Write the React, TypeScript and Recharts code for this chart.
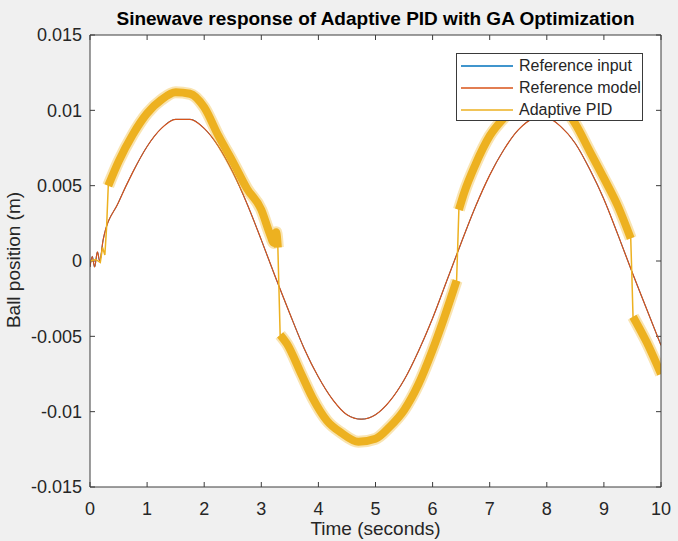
import React from "react";
import { LineChart, Line, XAxis, YAxis, Legend, ReferenceLine } from "recharts";

// axis ticks
const xTicks = [0, 1, 2, 3, 4, 5, 6, 7, 8, 9, 10];
const yTicks = [-0.015, -0.01, -0.005, 0, 0.005, 0.01, 0.015];
const legendOrder = ["Reference input", "Reference model", "Adaptive PID"];

// reference model (orange)
const modelTime = [
  0, 0.04, 0.08, 0.13, 0.17, 0.23, 0.5, 0.75, 1, 1.25, 1.5, 1.75, 2, 2.25, 2.5,
  2.75, 3, 3.25, 3.5, 3.75, 4, 4.25, 4.5, 4.75, 5, 5.25, 5.5, 5.75, 6, 6.25, 6.5,
  6.75, 7, 7.25, 7.5, 7.75, 8, 8.25, 8.5, 8.75, 9, 9.25, 9.5, 9.75, 10,
];
const modelPos = [
  -0.0004, 0.0003, -0.0004, 0.0006, 0.0, 0.0014, 0.0039, 0.0059, 0.0076, 0.0088,
  0.0094, 0.0094, 0.0088, 0.0076, 0.0059, 0.0038, 0.0014, -0.0011, -0.0035,
  -0.0058, -0.0077, -0.0092, -0.0102, -0.0105, -0.0102, -0.0093, -0.0079,
  -0.006, -0.0038, -0.0013, 0.0012, 0.0036, 0.0057, 0.0074, 0.0087, 0.0094,
  0.0095, 0.0089, 0.0078, 0.0061, 0.0041, 0.0017, -0.0008, -0.0032, -0.0056,
];

// reference input (blue) sits underneath the model trace
const inputTime = modelTime;
const inputPos = modelPos;

// adaptive PID (yellow)
const pidTime = [
  0, 0.1, 0.18, 0.22, 0.26, 0.29, 0.32, 0.5, 0.75, 1, 1.25, 1.5, 1.75, 2, 2.25,
  2.5, 2.75, 3, 3.15, 3.22, 3.26, 3.29, 3.31, 3.33, 3.45, 3.7, 3.9, 4.15, 4.4,
  4.7, 5, 5.25, 5.5, 5.75, 6, 6.2, 6.42, 6.44, 6.46, 6.55, 6.75, 7, 7.25, 7.5,
  7.75, 8, 8.25, 8.5, 8.75, 9, 9.25, 9.47, 9.49, 9.51, 9.75, 10,
];
const pidPos = [
  0, 0.0001, -0.0001, 0.0009, 0.0004, 0.0022, 0.005, 0.0066, 0.0084, 0.0098,
  0.0107, 0.0112, 0.0111, 0.0102, 0.0083, 0.0066, 0.0048, 0.0034, 0.0018,
  0.0012, 0.0019, 0.0009, -0.002, -0.0049, -0.0055, -0.0075, -0.0091, -0.0106,
  -0.0114, -0.012, -0.0118, -0.011, -0.0099, -0.0082, -0.0059, -0.0038,
  -0.0013, 0.001, 0.0034, 0.0045, 0.0064, 0.0083, 0.0095, 0.0105, 0.0111,
  0.0111, 0.0104, 0.0091, 0.0073, 0.0055, 0.0036, 0.0015, -0.001, -0.0037,
  -0.0054, -0.0075,
];
// time spans where the PID trace is a thick noisy band (jumps stay thin)
const pidBandRanges = [
  [0.32, 3.29],
  [3.33, 6.42],
  [6.46, 9.47],
  [9.51, 10],
];

const inputData = inputTime.map((t, i) => ({ t, y: inputPos[i] }));
const modelData = modelTime.map((t, i) => ({ t, y: modelPos[i] }));
const pidData = pidTime.map((t, i) => ({ t, y: pidPos[i] }));
const bandData = pidTime.map((t, i) => ({
  t,
  y: pidBandRanges.some(([a, b]) => t >= a && t <= b) ? pidPos[i] : null,
}));

const X_MIN = 0;
const X_MAX = 10;
const Y_MIN = -0.015;
const Y_MAX = 0.015;
const PLOT_W = 571;
const PLOT_H = 452;
// inward tick marks, ~5px long, expressed in data units
const xTickLen = ((Y_MAX - Y_MIN) / PLOT_H) * 5;
const yTickLen = ((X_MAX - X_MIN) / PLOT_W) * 5;

const axisColor = "#3c3c3c";
const textColor = "#262626";
const pidColor = "#EDB120";

const BottomTick = ({ x, y, payload }: any) => (
  <text x={x} y={y} dy="0.72em" textAnchor="middle" fontSize={18} fill={textColor}>
    {payload.value}
  </text>
);
const LeftTick = ({ x, y, payload }: any) => (
  <text x={x} y={y} dy="0.36em" textAnchor="end" fontSize={18} fill={textColor}>
    {String(payload.value)}
  </text>
);

const MatlabLegend = ({ payload }: any) => {
  const items = legendOrder
    .map((name) => (payload || []).find((p: any) => p.value === name))
    .filter(Boolean);
  return (
    <div
      style={{
        background: "#fff",
        border: "1px solid #3a3a3a",
        width: 187,
        height: 68,
        boxSizing: "border-box",
        paddingTop: 1,
      }}
    >
      {items.map((p: any) => (
        <div key={p.value} style={{ display: "flex", alignItems: "center", height: 22 }}>
          <svg width={62} height={22}>
            <line x1={4} x2={56} y1={11} y2={11} stroke={p.color} strokeWidth={1.5} />
          </svg>
          <span style={{ fontSize: 16, color: textColor, whiteSpace: "nowrap" }}>{p.value}</span>
        </div>
      ))}
    </div>
  );
};

export default function App() {
  return (
    <div
      style={{
        position: "relative",
        width: 678,
        height: 541,
        background: "#f0f0f0",
        fontFamily: "'Liberation Sans', Arial, sans-serif",
      }}
    >
      <style>{"body{margin:0}"}</style>
      {/* white axes background, behind the svg */}
      <div style={{ position: "absolute", left: 90, top: 35, width: PLOT_W, height: PLOT_H, background: "#fff" }} />
      <LineChart width={678} height={541} margin={{ top: 34, right: 16, bottom: 0, left: 0 }}>
        <XAxis
          xAxisId="b"
          dataKey="t"
          type="number"
          domain={[X_MIN, X_MAX]}
          ticks={xTicks}
          allowDataOverflow
          height={54}
          stroke={axisColor}
          tickLine={false}
          tickSize={0}
          tickMargin={15}
          tick={<BottomTick />}
        />
        <XAxis
          xAxisId="top"
          orientation="top"
          dataKey="t"
          type="number"
          domain={[X_MIN, X_MAX]}
          ticks={xTicks}
          height={1}
          stroke={axisColor}
          tickLine={false}
          tick={false}
        />
        <YAxis
          yAxisId="l"
          type="number"
          domain={[Y_MIN, Y_MAX]}
          ticks={yTicks}
          allowDataOverflow
          width={90}
          stroke={axisColor}
          tickLine={false}
          tickSize={0}
          tickMargin={8}
          tick={<LeftTick />}
        />
        <YAxis
          yAxisId="r"
          orientation="right"
          type="number"
          domain={[Y_MIN, Y_MAX]}
          ticks={yTicks}
          width={1}
          stroke={axisColor}
          tickLine={false}
          tick={false}
        />
        {xTicks.map((t) => (
          <ReferenceLine
            key={`xb${t}`}
            xAxisId="b"
            yAxisId="l"
            segment={[{ x: t, y: Y_MIN }, { x: t, y: Y_MIN + xTickLen }]}
            stroke={axisColor}
            ifOverflow="visible"
          />
        ))}
        {xTicks.map((t) => (
          <ReferenceLine
            key={`xt${t}`}
            xAxisId="b"
            yAxisId="l"
            segment={[{ x: t, y: Y_MAX }, { x: t, y: Y_MAX - xTickLen }]}
            stroke={axisColor}
            ifOverflow="visible"
          />
        ))}
        {yTicks.map((v) => (
          <ReferenceLine
            key={`yl${v}`}
            xAxisId="b"
            yAxisId="l"
            segment={[{ x: X_MIN, y: v }, { x: X_MIN + yTickLen, y: v }]}
            stroke={axisColor}
            ifOverflow="visible"
          />
        ))}
        {yTicks.map((v) => (
          <ReferenceLine
            key={`yr${v}`}
            xAxisId="b"
            yAxisId="l"
            segment={[{ x: X_MAX, y: v }, { x: X_MAX - yTickLen, y: v }]}
            stroke={axisColor}
            ifOverflow="visible"
          />
        ))}
        <Legend
          layout="vertical"
          align="center"
          verticalAlign="middle"
          content={<MatlabLegend />}
          wrapperStyle={{ left: 456, top: 53, width: 187, height: 68 }}
        />
        <Line
          xAxisId="b"
          yAxisId="l"
          data={inputData}
          dataKey="y"
          name="Reference input"
          type="monotone"
          stroke="#0072BD"
          strokeWidth={1}
          dot={false}
          activeDot={false}
          isAnimationActive={false}
        />
        <Line
          xAxisId="b"
          yAxisId="l"
          data={modelData}
          dataKey="y"
          name="Reference model"
          type="monotone"
          stroke="#D95319"
          strokeWidth={1.2}
          dot={false}
          activeDot={false}
          isAnimationActive={false}
        />
        <Line
          xAxisId="b"
          yAxisId="l"
          data={pidData}
          dataKey="y"
          name="Adaptive PID"
          stroke={pidColor}
          strokeWidth={1.5}
          dot={false}
          activeDot={false}
          isAnimationActive={false}
        />
        <Line
          xAxisId="b"
          yAxisId="l"
          data={bandData}
          dataKey="y"
          name="halo"
          legendType="none"
          type="monotone"
          stroke={pidColor}
          strokeOpacity={0.35}
          strokeWidth={12}
          dot={false}
          activeDot={false}
          isAnimationActive={false}
        />
        <Line
          xAxisId="b"
          yAxisId="l"
          data={bandData}
          dataKey="y"
          name="band"
          legendType="none"
          type="monotone"
          stroke={pidColor}
          strokeWidth={8}
          dot={false}
          activeDot={false}
          isAnimationActive={false}
        />
      </LineChart>
      <div
        style={{
          position: "absolute",
          left: 90,
          width: 571,
          top: 8,
          textAlign: "center",
          fontSize: 19,
          fontWeight: "bold",
          color: "#000",
          whiteSpace: "nowrap",
        }}
      >
        Sinewave response of Adaptive PID with GA Optimization
      </div>
      <div
        style={{
          position: "absolute",
          left: 90,
          width: 571,
          top: 518,
          textAlign: "center",
          fontSize: 19,
          color: textColor,
        }}
      >
        Time (seconds)
      </div>
      <div
        style={{
          position: "absolute",
          left: 14,
          top: 260,
          transform: "translate(-50%, -50%) rotate(-90deg)",
          fontSize: 19,
          color: textColor,
          whiteSpace: "nowrap",
        }}
      >
        Ball position (m)
      </div>
    </div>
  );
}
